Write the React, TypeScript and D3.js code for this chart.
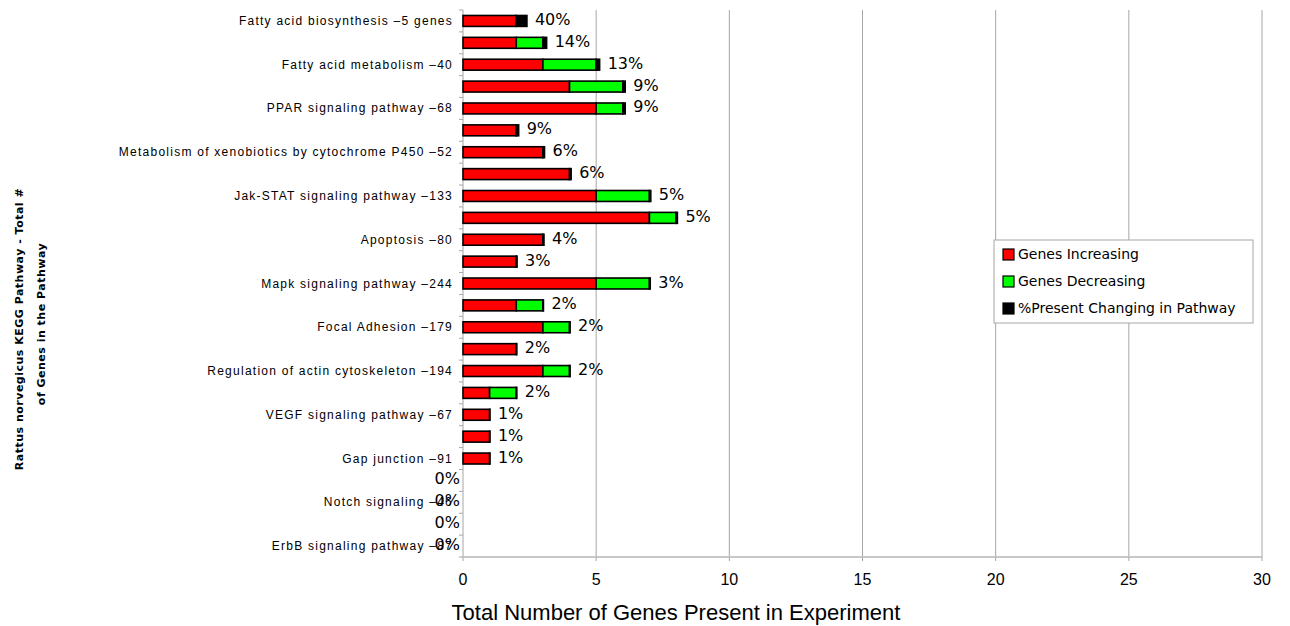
import React from "react";
import * as d3 from "d3";

// Pathway rows, top to bottom (every other row carries a label)
const categories = [
  "Fatty acid biosynthesis –5 genes", "",
  "Fatty acid metabolism –40", "",
  "PPAR signaling pathway –68", "",
  "Metabolism of xenobiotics by cytochrome P450 –52", "",
  "Jak-STAT signaling pathway –133", "",
  "Apoptosis –80", "",
  "Mapk signaling pathway –244", "",
  "Focal Adhesion –179", "",
  "Regulation of actin cytoskeleton –194", "",
  "VEGF signaling pathway –67", "",
  "Gap junction –91", "",
  "Notch signaling –46", "",
  "ErbB signaling pathway –87",
];

const genesIncreasing = [2, 2, 3, 4, 5, 2, 3, 4, 5, 7, 3, 2, 5, 2, 3, 2, 3, 1, 1, 1, 1, 0, 0, 0, 0];
const genesDecreasing = [0, 1, 2, 2, 1, 0, 0, 0, 2, 1, 0, 0, 2, 1, 1, 0, 1, 1, 0, 0, 0, 0, 0, 0, 0];
const pctChanging = [40, 14, 13, 9, 9, 9, 6, 6, 5, 5, 4, 3, 3, 2, 2, 2, 2, 2, 1, 1, 1, 0, 0, 0, 0];

const xTicks = [0, 5, 10, 15, 20, 25, 30];

const seriesNames = ["Genes Increasing", "Genes Decreasing", "%Present Changing in Pathway"];
const seriesColors = ["#ff0000", "#00ff00", "#000000"];

const W = 1290;
const H = 626;
const plot = { left: 463, right: 1262, top: 10, bottom: 557 };

export default function App() {
  const x = d3.scaleLinear().domain([0, 30]).range([plot.left, plot.right]);
  const idx = categories.map((_, i) => i);
  const y = d3.scaleBand<number>().domain(idx).range([plot.top, plot.bottom]).paddingInner(0).paddingOuter(0);
  const bw = y.bandwidth();
  const barH = bw * 0.5;

  const rows = idx.map((i) => {
    const segs = [genesIncreasing[i], genesDecreasing[i], pctChanging[i] / 100];
    let acc = 0;
    const parts = segs.map((v, s) => {
      const p = { x0: acc, x1: acc + v, s };
      acc += v;
      return p;
    });
    return { i, parts, total: acc };
  });

  const boundaries = d3.range(categories.length + 1).map((k) => plot.top + k * bw);

  return (
    <svg
      width={W}
      height={H}
      style={{ position: "absolute", left: 0, top: 0, background: "#fff" }}
    >
      {/* vertical gridlines */}
      {xTicks.slice(1).map((t) => (
        <line key={"g" + t} x1={x(t)} x2={x(t)} y1={plot.top} y2={plot.bottom} stroke="#a6a6a6" strokeWidth={1} />
      ))}

      {/* category axis */}
      <line x1={plot.left} x2={plot.left} y1={plot.top} y2={plot.bottom} stroke="#a6a6a6" strokeWidth={1} />
      {boundaries.map((b, k) => (
        <line key={"yt" + k} x1={plot.left - 4} x2={plot.left} y1={b} y2={b} stroke="#a6a6a6" strokeWidth={1} />
      ))}

      {/* value axis */}
      <line x1={plot.left} x2={plot.right} y1={plot.bottom} y2={plot.bottom} stroke="#c8c8c8" strokeWidth={2} />
      {xTicks.map((t) => (
        <g key={"xt" + t}>
          <line x1={x(t)} x2={x(t)} y1={plot.bottom} y2={plot.bottom + 4} stroke="#a6a6a6" />
          <text
            x={x(t)}
            y={585}
            textAnchor="middle"
            fontFamily="Liberation Sans, Arial, sans-serif"
            fontSize={16}
            fill="#000"
          >
            {t}
          </text>
        </g>
      ))}

      {/* stacked bars */}
      {rows.map((r) => {
        const cy = (y(r.i) as number) + bw / 2;
        return (
          <g key={"r" + r.i}>
            {r.parts
              .filter((p) => p.x1 > p.x0)
              .map((p) => (
                <rect
                  key={p.s}
                  x={x(p.x0)}
                  y={cy - barH / 2}
                  width={x(p.x1) - x(p.x0)}
                  height={barH}
                  fill={seriesColors[p.s]}
                  stroke="#000"
                  strokeWidth={1.6}
                />
              ))}
          </g>
        );
      })}

      {/* category labels */}
      {rows.map((r) =>
        categories[r.i] ? (
          <text
            key={"c" + r.i}
            x={453}
            y={(y(r.i) as number) + bw / 2 + 4}
            textAnchor="end"
            fontFamily="Liberation Sans, Arial, sans-serif"
            fontSize={12}
            letterSpacing={1.25}
            fill="#000"
          >
            {categories[r.i]}
          </text>
        ) : null
      )}

      {/* percentage labels */}
      {rows.map((r) => {
        const cy = (y(r.i) as number) + bw / 2 + 4;
        const zero = r.total === 0;
        return (
          <text
            key={"p" + r.i}
            x={zero ? x(0) - 3 : x(r.total) + 8}
            y={cy}
            textAnchor={zero ? "end" : "start"}
            fontFamily="DejaVu Sans, sans-serif"
            fontSize={16}
            fill="#000"
          >
            {pctChanging[r.i]}%
          </text>
        );
      })}

      {/* legend */}
      <rect x={994} y={240} width={259} height={83} fill="#fff" stroke="#a6a6a6" strokeWidth={1} />
      {seriesNames.map((n, k) => {
        const cy = 254 + k * 27;
        return (
          <g key={"l" + k}>
            <rect x={1003} y={cy - 5} width={11} height={11} fill={seriesColors[k]} stroke="#000" strokeWidth={1.2} />
            <text x={1018} y={cy + 5} fontFamily="DejaVu Sans, sans-serif" fontSize={14} fill="#000">
              {n}
            </text>
          </g>
        );
      })}

      {/* axis titles */}
      <text
        x={676}
        y={620}
        textAnchor="middle"
        fontFamily="Liberation Sans, Arial, sans-serif"
        fontSize={22}
        fill="#000"
      >
        Total Number of Genes Present in Experiment
      </text>
      <text
        transform="translate(23,329) rotate(-90)"
        textAnchor="middle"
        fontFamily="DejaVu Sans, sans-serif"
        fontWeight="bold"
        fontSize={11}
        letterSpacing={0.5}
        fill="#000"
      >
        Rattus norvegicus KEGG Pathway - Total #
      </text>
      <text
        transform="translate(45,324) rotate(-90)"
        textAnchor="middle"
        fontFamily="DejaVu Sans, sans-serif"
        fontWeight="bold"
        fontSize={11}
        letterSpacing={0.5}
        fill="#000"
      >
        of Genes in the Pathway
      </text>
    </svg>
  );
}
